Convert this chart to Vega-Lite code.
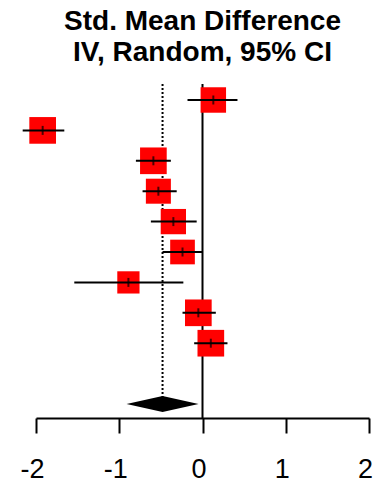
{
  "$schema": "https://vega.github.io/schema/vega-lite/v6.json",
  "autosize": "none",
  "width": 333,
  "height": 334,
  "padding": {"left": 36, "top": 84, "right": 5, "bottom": 65},
  "background": "white",
  "config": {"view": {"stroke": null}, "font": "Liberation Sans"},
  "title": {
    "text": ["Std. Mean Difference", "IV, Random, 95% CI"],
    "fontSize": 28,
    "fontWeight": "bold",
    "font": "Liberation Sans",
    "color": "black",
    "anchor": "middle",
    "lineHeight": 31,
    "offset": 16
  },
  "datasets": {
    "studies": [
      {"study": 1, "row": 1, "est": 0.13, "lo": -0.18, "hi": 0.42, "weight": 11.4},
      {"study": 2, "row": 2, "est": -1.92, "lo": -2.16, "hi": -1.66, "weight": 12.5},
      {"study": 3, "row": 3, "est": -0.59, "lo": -0.80, "hi": -0.38, "weight": 12.5},
      {"study": 4, "row": 4, "est": -0.53, "lo": -0.72, "hi": -0.31, "weight": 11.0},
      {"study": 5, "row": 5, "est": -0.35, "lo": -0.62, "hi": -0.07, "weight": 11.25},
      {"study": 6, "row": 6, "est": -0.24, "lo": -0.48, "hi": 0.0, "weight": 10.7},
      {"study": 7, "row": 7, "est": -0.89, "lo": -1.54, "hi": -0.23, "weight": 8.7},
      {"study": 8, "row": 8, "est": -0.05, "lo": -0.24, "hi": 0.16, "weight": 12.5},
      {"study": 9, "row": 9, "est": 0.10, "lo": -0.10, "hi": 0.30, "weight": 12.5}
    ],
    "pooled": [
      {"label": "Total", "row": 11, "top": 0.474, "est": -0.48, "lo": -0.90, "hi": -0.04}
    ]
  },
  "data": {"name": "pooled"},
  "layer": [
    {
      "mark": {"type": "rule", "color": "black", "strokeWidth": 2},
      "encoding": {
        "x": {
          "datum": 0,
          "type": "quantitative",
          "scale": {"domain": [-2, 2], "nice": false, "zero": false},
          "axis": {
            "title": null,
            "values": [-2, -1, 0, 1, 2],
            "grid": false,
            "domainColor": "black",
            "domainWidth": 2,
            "tickColor": "black",
            "tickWidth": 2,
            "tickSize": 15,
            "labelFontSize": 27,
            "labelColor": "black",
            "labelFont": "Liberation Sans",
            "labelPadding": 23,
            "labelFlush": false,
            "labelOverlap": false,
            "labelOffset": -4,
            "labelExpr": "datum.value < 0 ? '-' + abs(datum.value) : '' + datum.value"
          }
        }
      }
    },
    {
      "mark": {"type": "rule", "color": "black", "strokeWidth": 2, "strokeDash": [2, 2]},
      "encoding": {
        "x": {"field": "est", "type": "quantitative"},
        "y": {"field": "top", "type": "quantitative", "scale": {"domain": [0.474, 11.46], "nice": false, "zero": false, "reverse": true}, "axis": null},
        "y2": {"field": "row"}
      }
    },
    {
      "data": {"name": "studies"},
      "mark": {"type": "point", "shape": "square", "filled": true, "color": "#FF0000", "opacity": 1},
      "encoding": {
        "x": {"field": "est", "type": "quantitative"},
        "y": {"field": "row", "type": "quantitative"},
        "size": {"field": "weight", "type": "quantitative", "scale": {"domain": [0, 12.5], "range": [0, 711], "zero": true}, "legend": null}
      }
    },
    {
      "data": {"name": "studies"},
      "mark": {"type": "rule", "color": "black", "strokeWidth": 2},
      "encoding": {
        "x": {"field": "lo", "type": "quantitative"},
        "x2": {"field": "hi"},
        "y": {"field": "row", "type": "quantitative"}
      }
    },
    {
      "data": {"name": "studies"},
      "mark": {"type": "tick", "orient": "vertical", "color": "black", "thickness": 2, "size": 9},
      "encoding": {
        "x": {"field": "est", "type": "quantitative"},
        "y": {"field": "row", "type": "quantitative"}
      }
    },
    {
      "mark": {"type": "point", "shape": "M-1,0L0,-0.222L1,0L0,0.222Z", "filled": true, "color": "black", "opacity": 1, "size": 5184},
      "encoding": {
        "x": {"field": "est", "type": "quantitative"},
        "y": {"field": "row", "type": "quantitative"}
      }
    }
  ]
}
